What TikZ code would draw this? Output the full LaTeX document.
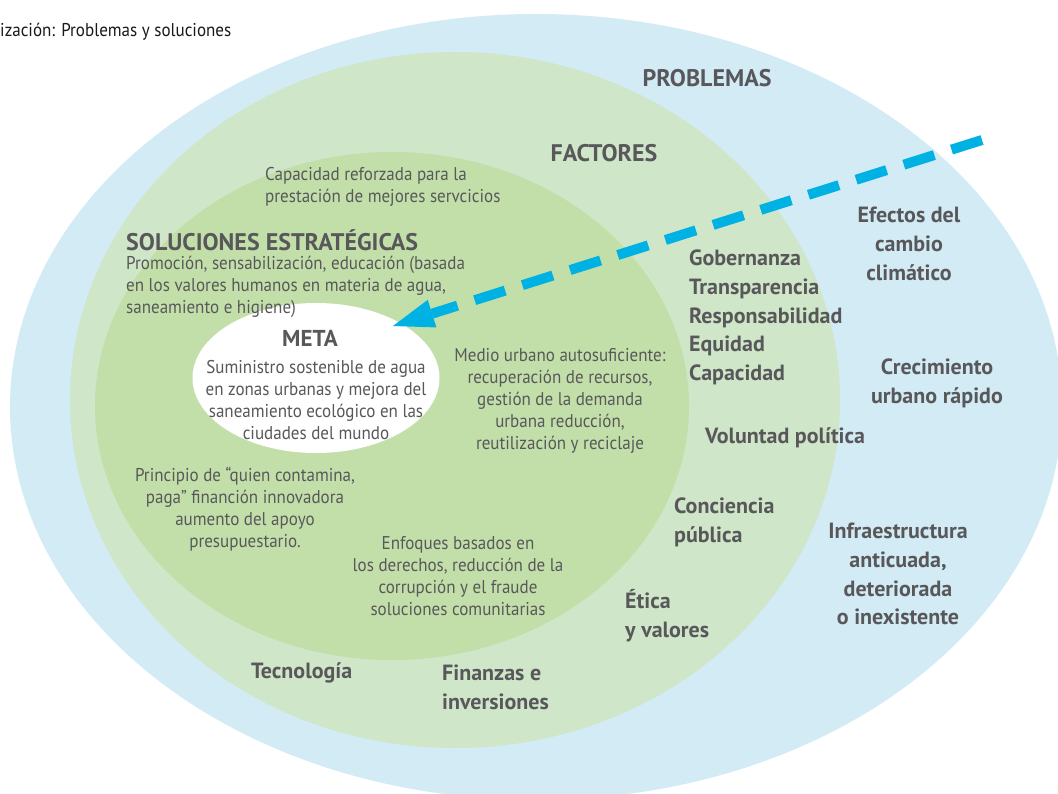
\documentclass[tikz,border=0pt]{standalone}
\usepackage{fontspec}
\setmainfont{PT Sans}[FakeStretch=0.92]
\newfontfamily\headfont{PT Sans}
\usetikzlibrary{arrows.meta}

\definecolor{probblue}{RGB}{211,235,245}
\definecolor{factgreen}{RGB}{207,230,200}
\definecolor{solgreen}{RGB}{195,223,169}
\definecolor{arrowcyan}{RGB}{0,178,227}
\definecolor{textgrey}{RGB}{88,88,91}

\begin{document}
\begin{tikzpicture}[x=1pt, y=-1pt,
      body/.style={text=textgrey, inner sep=0pt, align=center,
                   font=\fontsize{18.5}{22}\selectfont},
      head/.style={text=textgrey, inner sep=0pt, align=center,
                   font=\headfont\fontsize{22}{28.75}\selectfont\bfseries},
      zonehead/.style={head, font=\headfont\fontsize{24}{28}\selectfont\bfseries},
      flow/.style={draw=arrowcyan, line width=10pt,
                   dash pattern=on 32pt off 18pt,
                   -{Triangle[length=41pt, width=29pt, line width=0pt]}},
    ]
    \useasboundingbox (0,0) rectangle (1058,794);

    % Nested zones
    \fill[probblue] (536,407) ellipse [x radius=526, y radius=393];
    \fill[factgreen] (455,400) ellipse [x radius=385, y radius=348];
    \fill[solgreen] (392,406) ellipse [x radius=297, y radius=254];
    \fill[white] (316,378) ellipse [x radius=123.5, y radius=75];

    % Title (cut at the left)
    \node[inner sep=0pt, anchor=west, text=black!90,
          font=\fontsize{18.5}{22}\selectfont] (title) at (0,32)
      {ización: Problemas y soluciones};

    % Zone headings
    \node[zonehead] (problemas) at (707,78) {PROBLEMAS};
    \node[zonehead] (factores) at (604,153) {FACTORES};
    \node[zonehead, anchor=west] (soluciones) at (126,240) {SOLUCIONES ESTRATÉGICAS};

    % Strategic solutions
    \node[body, anchor=west, align=left] (capacidad) at (265,187)
      {Capacidad reforzada para la\\prestación de mejores servcicios};
    \node[body, anchor=west, align=left] (promocion) at (126,287)
      {Promoción, sensabilización, educación (basada\\en los valores humanos en materia de agua,\\saneamiento e higiene)};
    \node[body] (medio) at (560,401)
      {Medio urbano autosuficiente:\\recuperación de recursos,\\gestión de la demanda\\urbana reducción,\\reutilización y reciclaje};
    \node[body] (principio) at (245,509)
      {Principio de “quien contamina,\\paga” financión innovadora\\aumento del apoyo\\presupuestario.};
    \node[body] (enfoques) at (458,576)
      {Enfoques basados en\\los derechos, reducción de la\\corrupción y el fraude\\soluciones comunitarias};

    % Goal
    \node[head, font=\headfont\fontsize{23}{28}\selectfont\bfseries] (meta) at (310,338) {META};
    \node[body] (suministro) at (316,400)
      {Suministro sostenible de agua\\en zonas urbanas y mejora del\\saneamiento ecológico en las\\ciudades del mundo};

    % Factors
    \node[head, anchor=west, align=left] (gobernanza) at (689,317.5)
      {Gobernanza\\Transparencia\\Responsabilidad\\Equidad\\Capacidad};
    \node[head, anchor=west] (voluntad) at (705,438) {Voluntad política};
    \node[head, anchor=west, align=left] (conciencia) at (674,522.5)
      {Conciencia\\pública};
    \node[head, anchor=west, align=left] (etica) at (625,615.5)
      {Ética\\y valores};
    \node[head, anchor=west] (tecnologia) at (251,673) {Tecnología};
    \node[head, anchor=west, align=left] (finanzas) at (442,687.5)
      {Finanzas e\\inversiones};

    % Problems
    \node[head] (efectos) at (909,244) {Efectos del\\cambio\\climático};
    \node[head] (crecimiento) at (937,383) {Crecimiento\\urbano rápido};
    \node[head] (infra) at (898,574)
      {Infraestructura\\anticuada,\\deteriorada\\o inexistente};

    % Arrow towards the goal
    \coordinate (arrowstart) at (982,140);
    \coordinate (arrowtip) at (393,326);
    \draw[flow] (arrowstart) -- (arrowtip);

  \end{tikzpicture}
\end{document}
